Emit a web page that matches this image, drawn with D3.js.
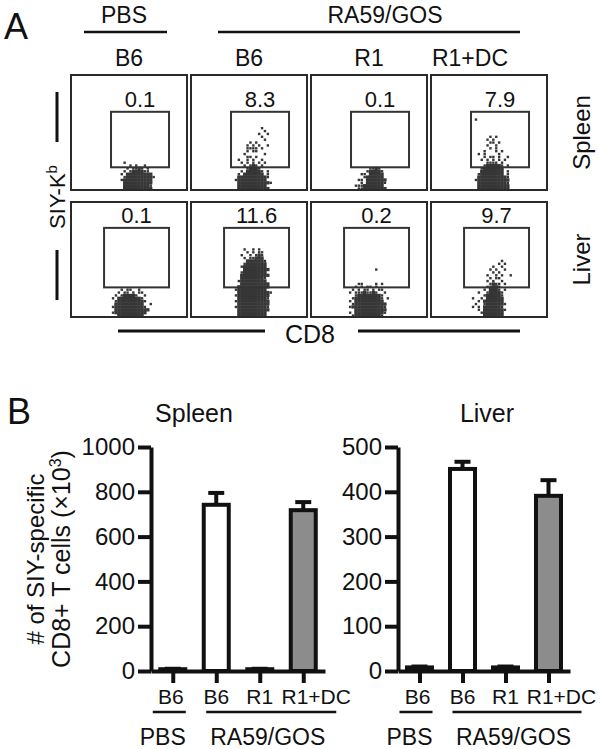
<!DOCTYPE html>
<html>
<head>
<meta charset="utf-8">
<script src="https://cdn.jsdelivr.net/npm/d3@7"></script>
<style>
	body { margin: 0; background: #fff; }
	svg { display: block; font-family: "Liberation Sans", Arial, sans-serif; }
</style>
</head>
<body>
<svg id="fig" width="602" height="749"></svg>
<script>
// ---- data ----
var groups = ["PBS", "RA59/GOS"];
var strains = ["B6", "B6", "R1", "R1+DC"];
var tissues = ["Spleen", "Liver"];

// % SIY-Kb+ in gate (panel A)
var spleenPct = [0.1, 8.3, 0.1, 7.9];
var liverPct = [0.1, 11.6, 0.2, 9.7];

// gates in binned channel units (0..40), [x0, x1, y0, y1]
var spleenGate = [13.8, 33.8, 7.9, 27.2];
var liverGate = [11.4, 33.8, 10.3, 31];

// binned events, rows from top to bottom (last row = bin 0); '#' dense bin, '+' single event
var spleenEvents = [
	{ x0: 16, rows: [
		"  +          ",
		"    + +  +   ",
		"   + ++#+ +  ",
		"  + +####++  ",
		" + ######### ",
		"  +#########+",
		" +########## ",
		"  ########## ",
		"  #########+ ",
		"  ########## "] },
	{ x0: 14, rows: [
		"          +   ",
		"           +  ",
		"         +  + ",
		"          +   ",
		"           +  ",
		"      + +     ",
		"     + + +  + ",
		"     ++++ +   ",
		"     + ++     ",
		"    +      +  ",
		"     ++ +     ",
		"  +  + +  +   ",
		"   + + + + +  ",
		"    + +#+ +   ",
		"     +###+    ",
		"   + #####+ + ",
		"  + ####### + ",
		"  ##########+ ",
		" +##########  ",
		"  ###########+",
		"  ##########  ",
		"  ########### "] },
	{ x0: 15, rows: [
		"     ++#+    ",
		"    +####+   ",
		"  ++ #####   ",
		"   +######   ",
		" ++ #######  ",
		"  + ######+  ",
		"+++#######   ",
		" ++########  "] },
	{ x0: 14, rows: [
		" +            ",
		"              ",
		"              ",
		"              ",
		"              ",
		"              ",
		"      + +     ",
		"     + +      ",
		"      ++ +    ",
		"     +  +     ",
		"      + +     ",
		"    +   + +   ",
		"  + +    +    ",
		"    + ++ +  + ",
		"   + + + + +  ",
		"     ++++ +   ",
		"    +#####+ + ",
		"   +#######   ",
		"   ######## + ",
		"  +######## + ",
		"  ##########+ ",
		" +########### ",
		"  ##########+ ",
		"  ########### ",
		"  ########### "] }
];

var liverEvents = [
	{ x0: 13, rows: [
		"    + ++  +     ",
		"   + ++ + ++    ",
		"  + +####+  +   ",
		" + ########+    ",
		"  +#########+   ",
		"  ##########  + ",
		" +##########+   ",
		"  ############  ",
		" +###########   ",
		"   #########    "] },
	{ x0: 13, rows: [
		"     +  + +    ",
		"      + + ++   ",
		"    +  + +#+   ",
		"     + ++###   ",
		"      ######+  ",
		"     +#######  ",
		"    +########  ",
		"     ######### ",
		"    +########  ",
		"    ########## ",
		"    ########+  ",
		"   +#########  ",
		"    ########## ",
		"   ########### ",
		"  +##########  ",
		"   ###########+",
		"  +########### ",
		"   ##########+ ",
		"  +########### ",
		"   ########### ",
		"  +##########+ ",
		"   ########### ",
		"   ##########  ",
		"   ##########  "] },
	{ x0: 12, rows: [
		"          +     ",
		"                ",
		"                ",
		"                ",
		"                ",
		"    ++    + +   ",
		"   + + ++ +     ",
		"  + + ++ + ++   ",
		" + +++#++#+  +  ",
		"   +########+   ",
		"  +#########+ + ",
		" + ##########   ",
		"  +###########  ",
		" +###########+  ",
		"   ###########  ",
		" + ##########+  ",
		"  +#########+   "] },
	{ x0: 13, rows: [
		"           +    ",
		"          + +   ",
		"        +  +    ",
		"       + +  +   ",
		"        + +     ",
		"      +  + +  + ",
		"       + ++     ",
		"      + +  +    ",
		"       +#++ +   ",
		"      ++##+     ",
		"     + ###+ +   ",
		"   +  +####+    ",
		"     +#####+    ",
		" +  + ######    ",
		"   + #######    ",
		"  +  +######+   ",
		" + + ######+    ",
		"   + #######+   ",
		"    +#######    ",
		"     #######    "] }
];

// panel B, number of SIY-specific CD8+ T cells (x10^3)
var spleenMean = [8, 742, 8, 718];
var spleenErr = [2, 53, 2, 36];
var liverMean = [8, 451, 8, 391];
var liverErr = [2, 16, 2, 35];
var spleenTicks = [0, 200, 400, 600, 800, 1000];
var liverTicks = [0, 100, 200, 300, 400, 500];
var barFills = ["#fff", "#fff", "#fff", "#8c8c8c"];

// ---- drawing ----
var svg = d3.select("#fig");
var INK = "#111";
var BINS = 40;
var BOX_W = 116, BOX_H = 115;
var boxX = [71, 191, 311, 431];
var boxY = [75, 202];

function txt(parent, s, x, y, size, anchor) {
	return parent.append("text").text(s)
		.attr("x", x).attr("y", y)
		.style("font-size", size + "px")
		.style("text-anchor", anchor || "middle")
		.style("fill", INK);
}

// panel letters
txt(svg, "A", 4, 39, 36, "start");
txt(svg, "B", 7, 424, 36, "start");

// treatment header
txt(svg, groups[0], 124, 23, 23);
txt(svg, groups[1], 385, 23, 23);
svg.append("line").attr("x1", 84).attr("x2", 167).attr("y1", 32).attr("y2", 32)
	.style("stroke", INK).style("stroke-width", 2.5);
svg.append("line").attr("x1", 218).attr("x2", 520).attr("y1", 32).attr("y2", 32)
	.style("stroke", INK).style("stroke-width", 2.5);

var colDx = [0, 0, 0, -19];
strains.forEach((s, i) => {
	txt(svg, s, boxX[i] + BOX_W / 2 + colDx[i], 66, 23);
});

function drawFlow(g, ev, gate, pct) {
	var x = d3.scaleLinear().domain([0, BINS]).range([0, BOX_W]);
	var y = d3.scaleLinear().domain([0, BINS]).range([BOX_H, 0]);
	var cw = x(1) - x(0);

	var cells = [];
	ev.rows.forEach((row, i) => {
		var yb = ev.rows.length - 1 - i;
		row.split('').forEach((ch, j) => {
			if (ch !== ' ') cells.push({ x: ev.x0 + j, y: yb, dense: ch === '#' });
		});
	});

	g.selectAll(".ev")
		.data(cells)
		.enter()
		.append("rect")
		.attr("x", d => d.dense ? x(d.x) - 0.2 : x(d.x) + cw / 2 - 1.2)
		.attr("y", d => d.dense ? y(d.y + 1) - 0.2 : y(d.y + 0.5) - 1.2)
		.attr("width", d => d.dense ? cw + 0.4 : 2.4)
		.attr("height", d => d.dense ? cw + 0.4 : 2.4)
		.style("fill", "#363636");

	g.append("rect")
		.attr("x", x(gate[0])).attr("y", y(gate[3]))
		.attr("width", x(gate[1]) - x(gate[0]))
		.attr("height", y(gate[2]) - y(gate[3]))
		.style("fill", "none").style("stroke", "#333").style("stroke-width", 2);

	txt(g, pct, (x(gate[0]) + x(gate[1])) / 2, y(gate[3]) - 5, 22);

	g.append("rect")
		.attr("x", 0).attr("y", 0).attr("width", BOX_W).attr("height", BOX_H)
		.style("fill", "none").style("stroke", "#2a2a2a").style("stroke-width", 2);
}

[[spleenEvents, spleenGate, spleenPct], [liverEvents, liverGate, liverPct]].forEach((t, r) => {
	t[0].forEach((ev, c) => {
		var g = svg.append("g").attr("transform", `translate(${ boxX[c] },${ boxY[r] })`);
		drawFlow(g, ev, t[1], t[2][c]);
	});
	var rl = svg.append("g").attr("transform", `translate(590,${ boxY[r] + BOX_H / 2 }) rotate(-90)`);
	txt(rl, tissues[r], 0, 0, 24);
});

// axis hints for panel A
svg.append("line").attr("x1", 57).attr("x2", 57).attr("y1", 92).attr("y2", 142)
	.style("stroke", INK).style("stroke-width", 3);
svg.append("line").attr("x1", 57).attr("x2", 57).attr("y1", 250).attr("y2", 300)
	.style("stroke", INK).style("stroke-width", 3);
var siy = svg.append("g").attr("transform", "translate(65,197) rotate(-90)");
var siyT = txt(siy, "SIY-K", 0, 0, 22);
siyT.append("tspan").text("b").attr("dy", -8).style("font-size", "15px");

svg.append("line").attr("x1", 118).attr("x2", 265).attr("y1", 331).attr("y2", 331)
	.style("stroke", INK).style("stroke-width", 3);
svg.append("line").attr("x1", 358).attr("x2", 520).attr("y1", 331).attr("y2", 331)
	.style("stroke", INK).style("stroke-width", 3);
txt(svg, "CD8", 310, 343, 25);

// ---- panel B bar charts ----
function drawBars(o) {
	var y = d3.scaleLinear().domain([0, o.max]).range([671, 447]);
	var x = d3.scalePoint().domain(d3.range(strains.length)).range([o.left, o.right]).padding(0.5);
	var BW = 25;

	txt(svg, o.title, o.titleX, 422, 25);

	// error bars (upper half only)
	var eb = svg.append("g");
	eb.selectAll("line.err")
		.data(o.mean)
		.enter()
		.append("line")
		.attr("x1", (d, i) => x(i)).attr("x2", (d, i) => x(i))
		.attr("y1", d => y(d)).attr("y2", (d, i) => y(d + o.err[i]))
		.style("stroke", INK).style("stroke-width", 4);
	eb.selectAll("line.cap")
		.data(o.mean)
		.enter()
		.append("line")
		.attr("x1", (d, i) => x(i) - 8).attr("x2", (d, i) => x(i) + 8)
		.attr("y1", (d, i) => y(d + o.err[i])).attr("y2", (d, i) => y(d + o.err[i]))
		.style("stroke", INK).style("stroke-width", 4);

	svg.append("g").selectAll("rect")
		.data(o.mean)
		.enter()
		.append("rect")
		.attr("x", (d, i) => x(i) - BW / 2)
		.attr("y", d => y(d))
		.attr("width", BW)
		.attr("height", d => y(0) - y(d))
		.style("fill", (d, i) => barFills[i])
		.style("stroke", INK).style("stroke-width", 4);

	var ya = svg.append("g").attr("transform", `translate(${ o.left },0)`)
		.call(d3.axisLeft(y).tickValues(o.ticks).tickFormat(d3.format("d"))
			.tickSize(13).tickSizeOuter(0).tickPadding(3));
	ya.select(".domain").style("stroke", INK).style("stroke-width", 4);
	ya.selectAll(".tick line").style("stroke", INK).style("stroke-width", 4);
	ya.selectAll(".tick text").style("font-size", "24px").style("fill", INK)
		.style("font-family", "'Liberation Sans', Arial, sans-serif");

	var xa = svg.append("g").attr("transform", `translate(0,${ y(0) })`)
		.call(d3.axisBottom(x).tickSize(12).tickSizeOuter(0).tickFormat(""));
	xa.select(".domain").style("stroke", INK).style("stroke-width", 4);
	xa.selectAll(".tick line").style("stroke", INK).style("stroke-width", 4);

	var labDx = [-2, 0, 0, 13];
	strains.forEach((s, i) => {
		txt(svg, s, x(i) + labDx[i], 704, 21);
	});

	// group underlines
	svg.append("line").attr("x1", x(0) - 20).attr("x2", x(0) + 13).attr("y1", 712).attr("y2", 712)
		.style("stroke", INK).style("stroke-width", 2.5);
	svg.append("line").attr("x1", x(1) - 10).attr("x2", x(3) + 33).attr("y1", 712).attr("y2", 712)
		.style("stroke", INK).style("stroke-width", 2.5);
	txt(svg, groups[0], x(0) - 10, 745, 23);
	txt(svg, groups[1], (x(1) + x(3)) / 2 + 8, 745, 23);
}

drawBars({ title: tissues[0], titleX: 194, left: 151, right: 325, max: 1000,
	ticks: spleenTicks, mean: spleenMean, err: spleenErr });
drawBars({ title: tissues[1], titleX: 487, left: 398, right: 570, max: 500,
	ticks: liverTicks, mean: liverMean, err: liverErr });

// y axis title
var yl = svg.append("g").attr("transform", "translate(44,559) rotate(-90)");
txt(yl, "# of SIY-specific", 0, 0, 24);
var yl2 = svg.append("g").attr("transform", "translate(70,559) rotate(-90)");
var y2t = txt(yl2, "CD8+ T cells (\u00d710", 0, 0, 25);
y2t.append("tspan").text("3").attr("dy", -9).style("font-size", "16px");
y2t.append("tspan").text(")").attr("dy", 9);
</script>
</body>
</html>
